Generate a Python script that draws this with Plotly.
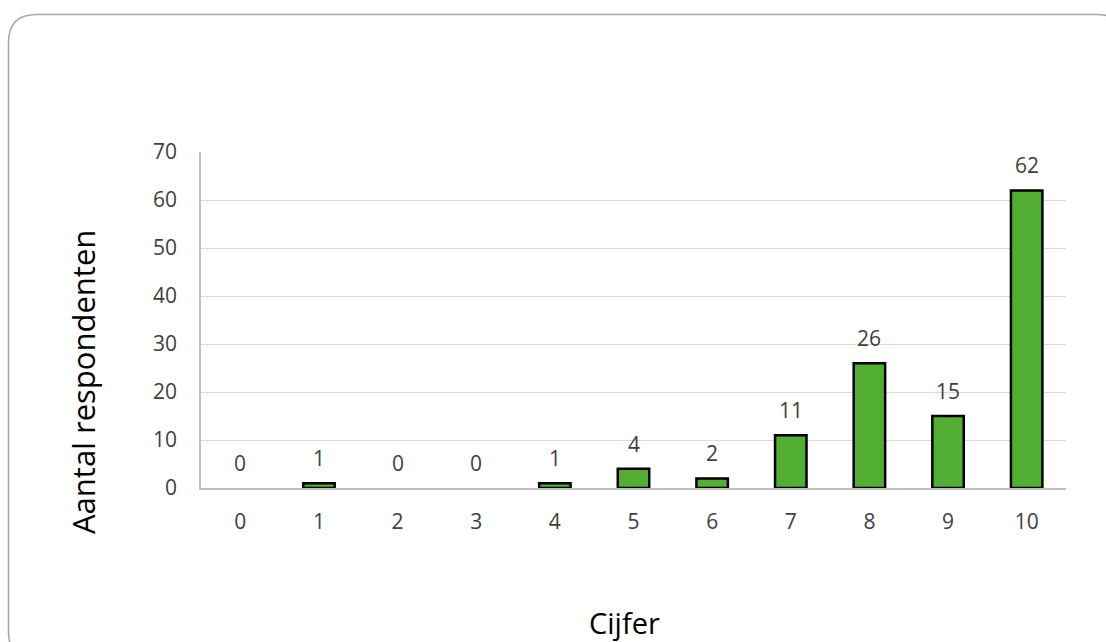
import plotly.graph_objects as go

categories = ["0", "1", "2", "3", "4", "5", "6", "7", "8", "9", "10"]
counts = [0, 1, 0, 0, 1, 4, 2, 11, 26, 15, 62]
y_ticks = [0, 10, 20, 30, 40, 50, 60, 70]

W, H = 1106, 642
L, R, T, B = 201, 1066, 152, 488

def px(x):
    return (x - L) / (R - L)

def py(y):
    return 1 - (y - T) / (B - T)

FONT = "Open Sans"
TXT = "#404040"

fig = go.Figure()
fig.add_trace(go.Bar(
    x=categories, y=counts,
    marker=dict(color="#52AE32",
                line=dict(color="#000000", width=[0 if v == 0 else 2.5 for v in counts])),
    hoverinfo="x+y",
))

for c, v in zip(categories, counts):
    fig.add_annotation(x=c, y=v, xref="x", yref="y", text=str(v),
                       showarrow=False, yshift=25, yanchor="middle",
                       font=dict(family=FONT, size=21, color=TXT))

# axis titles
fig.add_annotation(x=px(83), y=py(382), xref="paper", yref="paper",
                   text="Aantal respondenten", textangle=-90, showarrow=False,
                   xanchor="center", yanchor="middle",
                   font=dict(family=FONT, size=31, color="#000000"))
fig.add_annotation(x=px(624), y=py(622), xref="paper", yref="paper",
                   text="Cijfer", showarrow=False,
                   xanchor="center", yanchor="middle",
                   font=dict(family=FONT, size=29, color="#000000"))

# rounded outer border
x0, y0, x1, y1, r = 8.5, 14.5, 1125, 660, 28
pts = [
    ("M", [(x0 + r, y0)]),
    ("L", [(x1 - r, y0)]),
    ("Q", [(x1, y0), (x1, y0 + r)]),
    ("L", [(x1, y1 - r)]),
    ("Q", [(x1, y1), (x1 - r, y1)]),
    ("L", [(x0 + r, y1)]),
    ("Q", [(x0, y1), (x0, y1 - r)]),
    ("L", [(x0, y0 + r)]),
    ("Q", [(x0, y0), (x0 + r, y0)]),
]
path = " ".join(cmd + " " + " ".join(f"{px(a):.5f},{py(b):.5f}" for a, b in p) for cmd, p in pts) + " Z"
fig.add_shape(type="path", path=path, xref="paper", yref="paper",
              line=dict(color="#a6a6a6", width=1.5), layer="below")

fig.update_layout(
    width=W, height=H,
    margin=dict(l=L, r=W - R, t=T, b=H - B, autoexpand=False),
    paper_bgcolor="white", plot_bgcolor="white",
    bargap=0.6, showlegend=False,
    font=dict(family=FONT, color=TXT),
)
fig.update_xaxes(
    type="category", showgrid=False, showline=True, linecolor="#bfbfbf", linewidth=1.5,
    ticks="", tickfont=dict(family=FONT, size=21, color=TXT), ticklabelstandoff=14,
    fixedrange=True,
)
fig.update_yaxes(
    range=[0, 70], tickvals=y_ticks, showgrid=True, gridcolor="#d9d9d9", gridwidth=1,
    showline=True, linecolor="#bfbfbf", linewidth=1.5, zeroline=False,
    ticks="", tickfont=dict(family=FONT, size=21, color=TXT), ticklabelstandoff=18,
    fixedrange=True,
)

fig.write_html("out.html", config={"displayModeBar": False},
               post_script="document.body.style.margin='0';document.body.style.overflow='hidden';")
